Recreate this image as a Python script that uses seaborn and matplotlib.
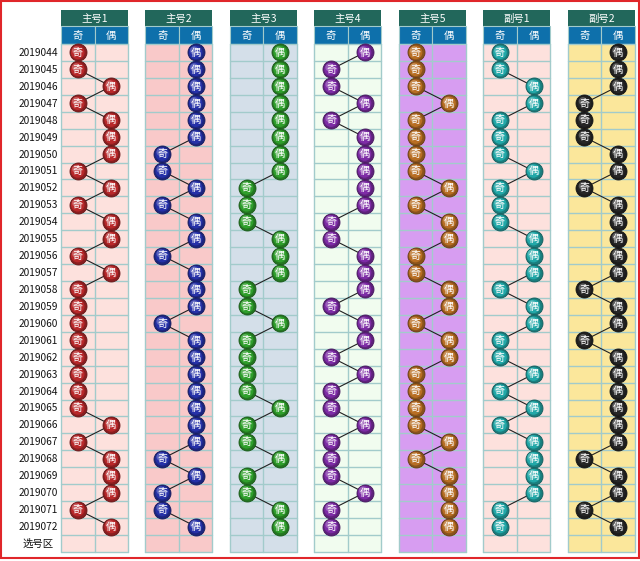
import matplotlib
matplotlib.use("Agg")
import matplotlib.pyplot as plt
import seaborn as sns
import pandas as pd
from matplotlib.patches import Rectangle
from matplotlib.colors import to_rgb

sns.set_theme(style="white")
plt.rcParams['font.family'] = ['Noto Sans CJK SC', 'DejaVu Sans']

# ---------------- data ----------------
periods = [str(2019044 + i) for i in range(29)]
row_labels = periods + ["选号区"]
groups = ["主号1", "主号2", "主号3", "主号4", "主号5", "副号1", "副号2"]
sub_labels = ["奇", "偶"]

zhu1 = list("OOEOEEEOEOEEOEOOOOOOOOEOEEEOE")
zhu2 = list("EEEEEEOOEOEEOEEEOEEEEEEEOEOOE")
zhu3 = list("EEEEEEEEOOOEEEOOEOOOOEOOEOOEE")
zhu4 = list("EOOEOEEEEEOOEEEOEEOEOOEOOOEOO")
zhu5 = list("OOOEOOOOEOEEOOEEOEEOOOOEOEEEE")
fu1 = list("OOEEOOOEOOOEEEOEEOOEOEOEEEEOO")
fu2 = list("EEEOOOEEOEEEEEOEEOEEEEEEOEEOE")
series = [zhu1, zhu2, zhu3, zhu4, zhu5, fu1, fu2]

ball_colors = ["#b8282a", "#2631a8", "#2f9f2c", "#7e2ca6", "#b86e24", "#22a8a8", "#262626"]
cell_colors = ["#fde1dd", "#f9c9c9", "#d4dfe9", "#f1fcef", "#d79df1", "#fde1dd", "#fbe79b"]

# ---------------- layout ----------------
W, H = 640, 561
top_head = 10
head_h = 16
sub_h = 18
row0 = top_head + head_h + sub_h
row_h = 16.93
col_w = 33.5
g_left0 = 61
g_step = 84.45
grid_col = "#a2cbcb"

fig = plt.figure(figsize=(W / 100, H / 100), dpi=100)
ax = fig.add_axes([0, 0, 1, 1])
ax.set_xlim(0, W)
ax.set_ylim(H, 0)
ax.axis("off")

n_rows = len(row_labels)

recs = []
for g, (name, vals) in enumerate(zip(groups, series)):
    for i, v in enumerate(vals):
        c = 0 if v == "O" else 1
        recs.append(dict(group=name, gi=g, period=periods[i],
                         parity=sub_labels[c],
                         x=g_left0 + g * g_step + (c + 0.5) * col_w,
                         y=row0 + (i + 0.5) * row_h))
df = pd.DataFrame(recs)

def lighten(col, f):
    r, g, b = to_rgb(col)
    return (r + (1 - r) * f, g + (1 - g) * f, b + (1 - b) * f)

def darken(col, f):
    r, g, b = to_rgb(col)
    return (r * (1 - f), g * (1 - f), b * (1 - f))

# backgrounds & grid
for g, name in enumerate(groups):
    left = g_left0 + g * g_step
    ax.add_patch(Rectangle((left, top_head), 2 * col_w, head_h,
                           facecolor="#22675b", edgecolor="none"))
    ax.text(left + col_w, top_head + head_h / 2 + 0.5, name, color="white",
            ha="center", va="center", fontsize=7.5)
    for c in range(2):
        ax.add_patch(Rectangle((left + c * col_w, top_head + head_h), col_w, sub_h,
                               facecolor="#0e70ab", edgecolor=grid_col, lw=0.8))
        ax.text(left + (c + 0.5) * col_w, top_head + head_h + sub_h / 2 + 0.5,
                sub_labels[c], color="white", ha="center", va="center", fontsize=7.5)
    ax.add_patch(Rectangle((left, row0), 2 * col_w, n_rows * row_h,
                           facecolor=cell_colors[g], edgecolor="none"))
    for r in range(n_rows + 1):
        y = row0 + r * row_h
        ax.plot([left, left + 2 * col_w], [y, y], color=grid_col, lw=1.0, zorder=1)
    for c in range(3):
        x = left + c * col_w
        ax.plot([x, x], [row0, row0 + n_rows * row_h], color=grid_col, lw=1.0, zorder=1)

# row labels
for i, lab in enumerate(row_labels):
    y = row0 + (i + 0.5) * row_h
    if i < len(periods):
        ax.text(58, y + 0.5, lab, ha="right", va="center", fontsize=7.3, color="#111111")
    else:
        ax.text(38, y + 0.5, lab, ha="center", va="center", fontsize=7.5, color="#111111")

# connecting lines and balls
for g, name in enumerate(groups):
    sub = df[df.gi == g]
    base = ball_colors[g]
    sns.lineplot(data=sub, x="x", y="y", sort=False, estimator=None, ax=ax,
                 color="#222222", lw=0.8, zorder=3, legend=False)
    sns.scatterplot(data=sub, x="x", y="y", ax=ax, s=150, color=darken(base, 0.25),
                    edgecolor=darken(base, 0.45), linewidth=0.6, zorder=4, legend=False)
    sns.scatterplot(data=sub, x="x", y="y", ax=ax, s=95, color=base,
                    edgecolor="none", linewidth=0, zorder=4.1, legend=False)
    hl = sub.assign(x=sub.x - 1.6, y=sub.y - 2.0)
    sns.scatterplot(data=hl, x="x", y="y", ax=ax, s=35, color=lighten(base, 0.35),
                    edgecolor="none", linewidth=0, alpha=0.7, zorder=4.2, legend=False)
    for _, r in sub.iterrows():
        ax.text(r.x, r.y + 0.3, r.parity, color="white", ha="center", va="center",
                fontsize=7.3, zorder=5)

ax.set_xlim(0, W)
ax.set_ylim(H, 0)
ax.set_xlabel("")
ax.set_ylabel("")

fig.patches.append(Rectangle((0.5 / W, 1 - 557.5 / H), (W - 2) / W, 557 / H,
                             transform=fig.transFigure, fill=False,
                             edgecolor="#e0262a", lw=1.5))

fig.savefig("out.png", dpi=100)
